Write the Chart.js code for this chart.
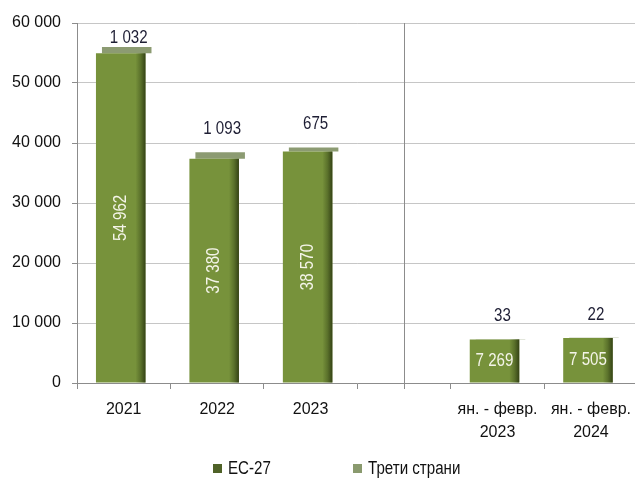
<!DOCTYPE html>
<html><head><meta charset="utf-8">
<script src="https://cdn.jsdelivr.net/npm/chart.js@4.4.1/dist/chart.umd.min.js"></script>
<style>
html,body{margin:0;padding:0;background:#fff;overflow:hidden;}
#wrap{width:641px;height:480px;position:relative;}
</style></head>
<body><div id="wrap"><canvas id="c" width="641" height="480"></canvas></div>
<script>
const categories = ['2021', '2022', '2023', '', ['ян. - февр.', '2023'], ['ян. - февр.', '2024']];
const euValues = [54962, 37380, 38570, null, 7269, 7505];
const thirdValues = [1032, 1093, 675, null, 33, 22];
const seriesNames = ['ЕС-27', 'Трети страни'];
const yMin = 0, yMax = 60000, yStep = 10000;

const FONT = "'Liberation Sans', Arial, sans-serif";
const fmt = v => String(v).replace(/\B(?=(\d{3})+(?!\d))/g, ' ');

// narrow-looking text helper (horizontal compression)
function narrowText(ctx, text, x, y, size, sx) {
  ctx.save();
  ctx.translate(x, y);
  ctx.scale(sx, 1);
  ctx.font = size + 'px ' + FONT;
  ctx.fillText(text, 0, 0);
  ctx.restore();
}

const barShift = {
  id: 'barShift',
  beforeDatasetDraw(chart, args) {
    const ctx = chart.ctx;
    ctx.save();
    ctx.translate(args.index === 1 ? 3 : -3, 0);
  },
  afterDatasetDraw(chart, args) {
    const ctx = chart.ctx;
    if (args.index === 0) {
      args.meta.data.forEach((el, i) => {
        if (euValues[i] == null) return;
        const right = el.x + el.width / 2;
        const g = ctx.createLinearGradient(right - 10, 0, right, 0);
        g.addColorStop(0, 'rgba(40,55,15,0)');
        g.addColorStop(0.5, 'rgba(40,55,15,0.35)');
        g.addColorStop(1, 'rgba(35,45,12,0.8)');
        ctx.fillStyle = g;
        ctx.fillRect(right - 10, el.y, 10, el.base - el.y);
      });
    }
    ctx.restore();
  }
};

const separator = {
  id: 'separator',
  afterDatasetsDraw(chart) {
    const x = Math.round(chart.scales.x.getPixelForValue(3)) + 0.5;
    const a = chart.chartArea, ctx = chart.ctx;
    ctx.save();
    ctx.strokeStyle = '#8c8c8c'; ctx.lineWidth = 1;
    ctx.beginPath(); ctx.moveTo(x, a.top); ctx.lineTo(x, a.bottom + 6); ctx.stroke();
    ctx.restore();
  }
};

const valueLabels = {
  id: 'valueLabels',
  afterDatasetsDraw(chart) {
    const ctx = chart.ctx, a = chart.chartArea;
    const m0 = chart.getDatasetMeta(0), m1 = chart.getDatasetMeta(1);
    ctx.save();
    ctx.textAlign = 'center'; ctx.textBaseline = 'middle';
    m0.data.forEach((el, i) => {
      const v = euValues[i];
      if (v == null) return;
      const cx = el.x - 3, cy = (el.y + el.base) / 2;
      ctx.fillStyle = '#f4f4e8';
      if (el.base - el.y > 80) {
        ctx.save(); ctx.translate(cx, cy); ctx.rotate(-Math.PI / 2);
        narrowText(ctx, fmt(v), 0, 0, 18, 0.84); ctx.restore();
      } else {
        narrowText(ctx, fmt(v), cx, cy, 18, 0.84);
      }
    });
    m1.data.forEach((el, i) => {
      const v = thirdValues[i];
      if (v == null) return;
      let y = el.y - 23;
      if (y < a.top + 15) y = a.top + 15;
      ctx.fillStyle = '#1e1e34';
      narrowText(ctx, fmt(v), el.x + 5, y, 18, 0.84);
    });
    ctx.restore();
  }
};

const customLegend = {
  id: 'customLegend',
  afterDraw(chart) {
    const ctx = chart.ctx;
    const items = [
      {x: 213, color: '#4f6228', text: seriesNames[0]},
      {x: 353, color: '#8a9a6e', text: seriesNames[1]}
    ];
    ctx.save();
    ctx.textBaseline = 'middle'; ctx.textAlign = 'left';
    items.forEach(it => {
      ctx.fillStyle = it.color; ctx.fillRect(it.x, 464, 9, 9);
      ctx.fillStyle = '#111';
      narrowText(ctx, it.text, it.x + 15, 469, 18, 0.84);
    });
    ctx.restore();
  }
};

new Chart(document.getElementById('c'), {
  type: 'bar',
  data: {
    labels: categories,
    datasets: [
      {label: seriesNames[0], data: euValues, backgroundColor: '#77923b', barPercentage: 0.53, categoryPercentage: 1},
      {label: seriesNames[1], data: thirdValues, backgroundColor: '#8c9b72', barPercentage: 0.53, categoryPercentage: 1}
    ]
  },
  options: {
    responsive: false,
    animation: false,
    devicePixelRatio: 1,
    layout: {padding: {left: 0, top: 23, right: 0, bottom: 40}},
    plugins: {legend: {display: false}, tooltip: {enabled: false}},
    scales: {
      x: {
        stacked: true,
        grid: {offset: true, drawOnChartArea: false, color: '#8c8c8c', tickLength: 6},
        border: {color: '#8c8c8c'},
        ticks: {color: '#111', font: {family: FONT, size: 16, lineHeight: 1.38}, padding: 10, maxRotation: 0, autoSkip: false},
        afterFit(s) { s.height = 57; }
      },
      y: {
        stacked: true,
        min: yMin, max: yMax,
        ticks: {stepSize: yStep, color: '#111', font: {family: FONT, size: 16}, padding: 11, callback: v => fmt(v)},
        grid: {color: '#c6c6c6', tickLength: 5, tickColor: '#8c8c8c'},
        border: {color: '#8c8c8c'},
        afterFit(s) { s.width = 77; }
      }
    }
  },
  plugins: [barShift, separator, valueLabels, customLegend]
});
</script></body></html>
